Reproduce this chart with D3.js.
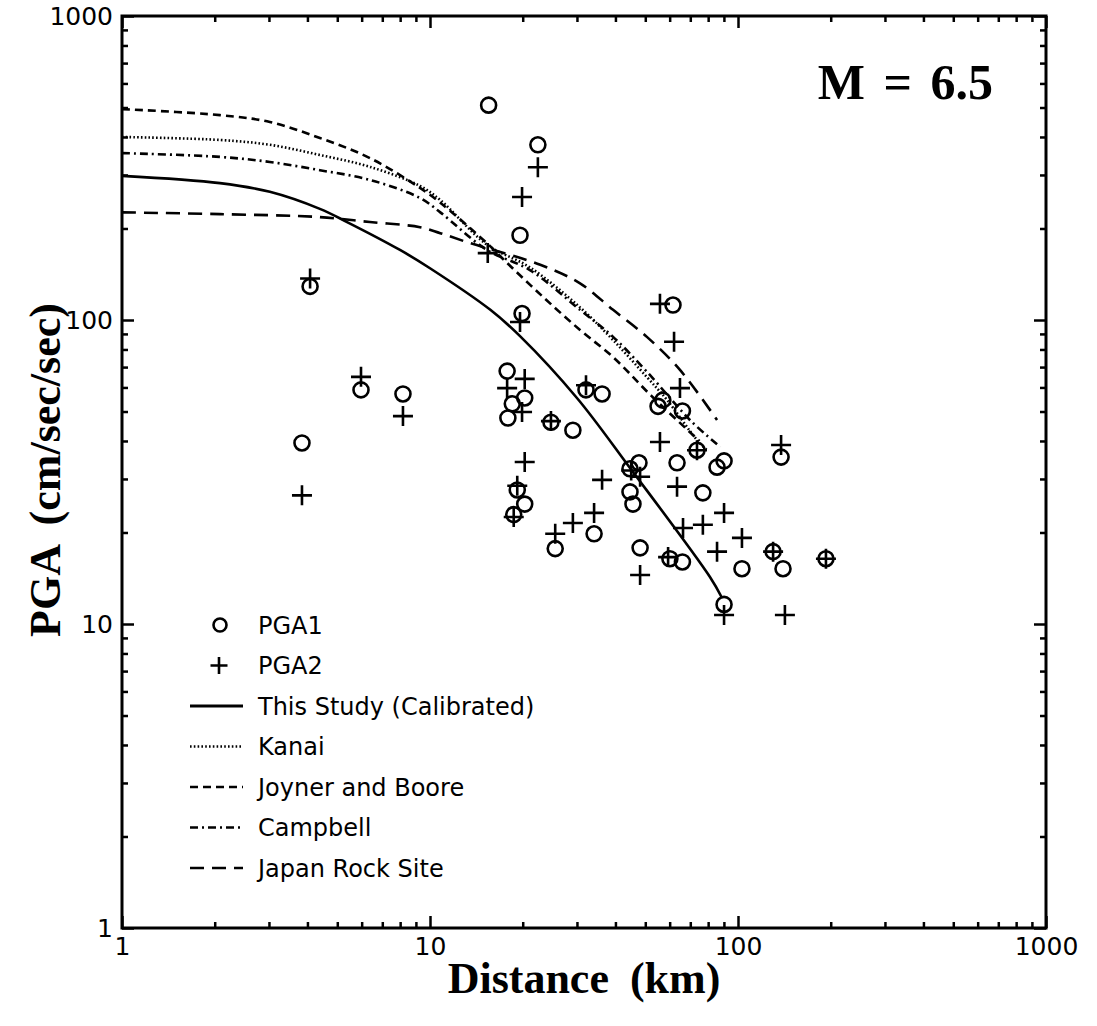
<!DOCTYPE html>
<html>
<head>
<meta charset="utf-8">
<script src="https://cdn.jsdelivr.net/npm/d3@7"></script>
<style>
  body { margin: 0; background: #fff; }
  svg { display: block; }
  .axis text { font-family: 'DejaVu Sans', sans-serif; font-size: 25px; fill: #000; }
  .axis line { stroke: #000; stroke-width: 2.5; }
  .axis .domain { display: none; }
  .title { font-family: 'Liberation Serif', 'Times New Roman', serif; font-weight: bold; fill: #000; }
  .legend text { font-family: 'DejaVu Sans', sans-serif; font-size: 24px; fill: #000; }
</style>
</head>
<body>
<svg id="chart" width="1097" height="1026"></svg>
<script>
// distance (km) / PGA (cm/sec/sec)
const pga1 = [
  [15.5, 509], [22.4, 377], [19.6, 190], [61.5, 112], [4.08, 129], [19.9, 105],
  [3.84, 39.4], [5.97, 58.9], [8.17, 57.1], [17.8, 67.9], [20.3, 55.4], [18.5, 53],
  [17.9, 47.6], [19.2, 27.6], [20.3, 24.8], [18.7, 22.9], [32.1, 58.9], [36.2, 57.1],
  [55, 52], [57, 54.5], [66, 50.2], [24.7, 46.1], [29.1, 43.4], [63.4, 33.9],
  [73.6, 37.3], [85.5, 32.8], [90.1, 34.4], [138, 35.4], [47.7, 33.9], [44.6, 32.4],
  [44.6, 27.2], [45.6, 24.8], [76.9, 27], [130, 17.3], [193, 16.4], [140, 15.2],
  [103, 15.2], [60.1, 16.4], [66, 16], [48.1, 17.8], [34.1, 19.8], [25.5, 17.7],
  [90.1, 11.6],
]
const pga2 = [
  [4.08, 137], [19.9, 254], [22.4, 318], [15.4, 166], [19.6, 98.5], [3.84, 26.5],
  [5.97, 65], [8.17, 48.3], [20.3, 64], [17.8, 59.7], [19.9, 49.8], [20.3, 34.1],
  [19.2, 28.5], [18.7, 22.5], [55.8, 113], [62, 84.8], [32.1, 61], [64.8, 59.7],
  [24.7, 46.5], [55.8, 39.7], [73.6, 37.3], [138, 38.8], [36.2, 29.8], [48.1, 30.5],
  [45, 32], [63.4, 28.3], [90.1, 23.2], [76.9, 21.2], [66.3, 20.7], [103, 19.2],
  [85.5, 17.3], [130, 17.3], [193, 16.4], [34.1, 23.2], [29.1, 21.5], [25.5, 19.8],
  [48.1, 14.5], [59.3, 16.6], [90.1, 10.7], [142, 10.7],
]

const thisStudy = [
  [1, 298], [2.08, 282], [3.02, 264], [4.39, 232], [5.38, 210], [7.99, 170], [10, 148],
  [15.7, 108], [19.6, 88.5], [30, 55.4], [44.6, 32.6], [81, 14.3], [88.7, 12.2],
]
const kanai = [
  [1, 400], [2.08, 391], [3.02, 377], [4.39, 349], [6.38, 319], [9.28, 276], [10.8, 248],
  [15.3, 177], [21.1, 149], [30.7, 110], [39.3, 85.9], [50.6, 64.9], [58.8, 54.6],
  [73.6, 40.3], [80, 37],
]
const joynerBoore = [
  [1, 494], [2.08, 472], [3.02, 448], [4.39, 397], [6.38, 341], [9.28, 272], [10.8, 243],
  [15.3, 179], [17.8, 154], [23.3, 119], [30.7, 92.7], [39.3, 75.5], [52.8, 55.8], [75, 40],
]
const campbell = [
  [1, 354], [2.08, 344], [3.02, 331], [4.39, 311], [6.38, 289], [9.28, 252], [10.8, 226],
  [15.3, 170], [21.1, 146], [30.7, 108], [39.3, 88], [50.6, 67.6], [69.8, 46.9], [87.6, 38.2],
]
const japanRock = [
  [1, 226], [2.08, 223], [4.39, 218], [6.38, 210], [9.28, 202], [10.8, 193], [13.5, 179],
  [22.8, 152], [30.7, 132], [39.3, 108], [50.6, 88], [64.8, 68.5], [85.5, 46.9],
]

const majorTicks = [1, 10, 100, 1000]
const tickLabels = ['1', '10', '100', '1000']
const minorTicks = [1, 10, 100].flatMap((d) => d3.range(2, 10).map((k) => k * d))

const curves = [
  {name: 'This Study (Calibrated)', data: thisStudy, dash: null},
  {name: 'Kanai', data: kanai, dash: '1.6,2.2'},
  {name: 'Joyner and Boore', data: joynerBoore, dash: '8,5'},
  {name: 'Campbell', data: campbell, dash: '8,4,2,4'},
  {name: 'Japan Rock Site', data: japanRock, dash: '14,8'},
]

const plot = {left: 122, right: 1046, top: 16, bottom: 928}
const svg = d3.select('#chart')

const x = d3.scaleLog().domain([1, 1000]).range([plot.left, plot.right])
const y = d3.scaleLog().domain([1, 1000]).range([plot.bottom, plot.top])

// ticks point inwards on all four sides
const fmt = (d) => tickLabels[majorTicks.indexOf(d)]
const axes = [
  {make: d3.axisBottom, scale: x, at: `translate(0, ${plot.bottom})`, labels: true},
  {make: d3.axisTop, scale: x, at: `translate(0, ${plot.top})`, labels: false},
  {make: d3.axisLeft, scale: y, at: `translate(${plot.left}, 0)`, labels: true},
  {make: d3.axisRight, scale: y, at: `translate(${plot.right}, 0)`, labels: false},
]
axes.forEach((a) => {
  svg.append('g')
    .attr('class', 'axis')
    .attr('transform', a.at)
    .call(a.make(a.scale).tickValues(minorTicks).tickSize(-6).tickFormat(''))
  svg.append('g')
    .attr('class', 'axis')
    .attr('transform', a.at)
    .call(a.make(a.scale).tickValues(majorTicks).tickSize(-12).tickPadding(9)
      .tickFormat(a.labels ? fmt : ''))
})

svg.append('rect')
  .attr('x', plot.left)
  .attr('y', plot.top)
  .attr('width', plot.right - plot.left)
  .attr('height', plot.bottom - plot.top)
  .attr('fill', 'none')
  .attr('stroke', '#000')
  .attr('stroke-width', 3)

const line = d3.line()
  .x((d) => x(d[0]))
  .y((d) => y(d[1]))
  .curve(d3.curveCatmullRom.alpha(0.5))

svg.append('g')
  .selectAll('path')
  .data(curves)
  .enter()
  .append('path')
  .attr('d', (d) => line(d.data))
  .attr('fill', 'none')
  .attr('stroke', '#000')
  .attr('stroke-width', 2.6)
  .attr('stroke-dasharray', (d) => d.dash)

const plusPath = (s) => `M${-s},0H${s}M0,${-s}V${s}`

svg.append('g')
  .selectAll('circle')
  .data(pga1)
  .enter()
  .append('circle')
  .attr('cx', (d) => x(d[0]))
  .attr('cy', (d) => y(d[1]))
  .attr('r', 7.5)
  .attr('fill', 'none')
  .attr('stroke', '#000')
  .attr('stroke-width', 2.6)

svg.append('g')
  .selectAll('path')
  .data(pga2)
  .enter()
  .append('path')
  .attr('transform', (d) => `translate(${x(d[0])}, ${y(d[1])})`)
  .attr('d', plusPath(10))
  .attr('stroke', '#000')
  .attr('stroke-width', 2.6)

// legend
const legendRows = [{name: 'PGA1', kind: 'circle'}, {name: 'PGA2', kind: 'plus'}]
  .concat(curves.map((c) => ({name: c.name, kind: 'line', dash: c.dash})))
const legend = svg.append('g')
  .attr('class', 'legend')
  .attr('transform', 'translate(190, 625)')
  .selectAll('g')
  .data(legendRows)
  .enter()
  .append('g')
  .attr('transform', (d, i) => `translate(0, ${i * 40.5})`)

legend.filter((d) => d.kind === 'circle')
  .append('circle')
  .attr('cx', 30)
  .attr('r', 6.5)
  .attr('fill', 'none')
  .attr('stroke', '#000')
  .attr('stroke-width', 2.6)
legend.filter((d) => d.kind === 'plus')
  .append('path')
  .attr('transform', 'translate(29, 0)')
  .attr('d', plusPath(8.5))
  .attr('stroke', '#000')
  .attr('stroke-width', 2.6)
legend.filter((d) => d.kind === 'line')
  .append('line')
  .attr('x1', 0)
  .attr('x2', 53)
  .attr('stroke', '#000')
  .attr('stroke-width', (d) => d.dash ? 2.4 : 3)
  .attr('stroke-dasharray', (d) => d.dash)
legend.append('text')
  .attr('x', 68)
  .attr('dy', '0.36em')
  .text((d) => d.name)

// titles
svg.append('text')
  .attr('class', 'title')
  .attr('x', (plot.left + plot.right) / 2)
  .attr('y', 993)
  .attr('text-anchor', 'middle')
  .attr('font-size', 44)
  .attr('word-spacing', 10)
  .text('Distance (km)')

svg.append('text')
  .attr('class', 'title')
  .attr('transform', 'translate(60, 470) rotate(-90)')
  .attr('text-anchor', 'middle')
  .attr('font-size', 44)
  .attr('word-spacing', 10)
  .text('PGA (cm/sec/sec)')

svg.append('text')
  .attr('class', 'title')
  .attr('x', 993)
  .attr('y', 99)
  .attr('text-anchor', 'end')
  .attr('font-size', 50)
  .attr('word-spacing', 6)
  .text('M = 6.5')
</script>
</body>
</html>
